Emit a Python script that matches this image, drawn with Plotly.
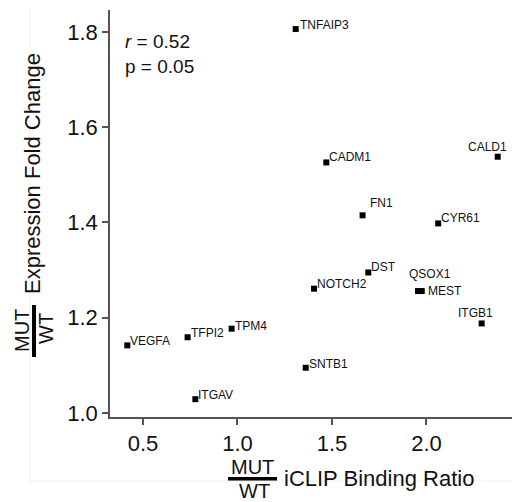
import plotly.graph_objects as go

# ---- data ----
genes = ["TNFAIP3", "CADM1", "FN1", "CYR61", "CALD1", "DST", "NOTCH2", "QSOX1",
         "MEST", "ITGB1", "SNTB1", "TPM4", "TFPI2", "VEGFA", "ITGAV"]
binding_ratio = [1.308, 1.470, 1.662, 2.062, 2.377, 1.692, 1.405, 1.955,
                 1.975, 2.292, 1.361, 0.969, 0.736, 0.417, 0.777]
fold_change = [1.806, 1.526, 1.415, 1.398, 1.538, 1.295, 1.261, 1.256,
               1.256, 1.188, 1.095, 1.177, 1.159, 1.142, 1.029]
x_ticks = [0.5, 1.0, 1.5, 2.0]
x_tick_labels = ["0.5", "1.0", "1.5", "2.0"]
y_ticks = [1.0, 1.2, 1.4, 1.6, 1.8]
y_tick_labels = ["1.0", "1.2", "1.4", "1.6", "1.8"]
stat_r = "0.52"
stat_p = "0.05"

# label placement styles: (xanchor, dx px, dy px downward)
label_style = {
    "TNFAIP3": ("left", 3, -4), "CADM1": ("left", 2, -5), "FN1": ("left", 6, -12),
    "CYR61": ("left", 2, -5), "CALD1": ("center", -10, -10), "DST": ("left", 2, -5),
    "NOTCH2": ("left", 2, -5), "QSOX1": ("center", 12, -17), "MEST": ("left", 5, 0),
    "ITGB1": ("center", -6, -10), "SNTB1": ("left", 2, -4), "TPM4": ("left", 2, -3),
    "TFPI2": ("left", 2, -4), "VEGFA": ("left", 2, -4), "ITGAV": ("left", 2, -4),
}

FONT = "Liberation Sans, Arial, sans-serif"
PAGE_W, PAGE_H = 520, 502
OFF = 8  # default body margin of the page
W, H = PAGE_W - OFF, PAGE_H - OFF
# plot area in page pixels
L, R, T, B = 110, 517, 10, 417


def px(xp):
    return (xp - L) / (R - L)


def py(yp):
    return (B - yp) / (B - T)


fig = go.Figure()
fig.add_trace(go.Scatter(
    x=binding_ratio, y=fold_change, mode="markers",
    marker=dict(symbol="square", size=6, color="black"),
    hoverinfo="text", text=genes, showlegend=False, cliponaxis=False,
))

annotations = []
for g, xv, yv in zip(genes, binding_ratio, fold_change):
    anc, dx, dy = label_style[g]
    annotations.append(dict(
        x=xv, y=yv, xref="x", yref="y", text=g, showarrow=False,
        xanchor=anc, yanchor="middle", xshift=dx, yshift=-dy, borderpad=0,
        font=dict(family=FONT, size=12, color="#111"),
    ))

# statistics
annotations.append(dict(x=px(124), y=py(42), xref="paper", yref="paper",
                        text="<i>r</i> = " + stat_r, showarrow=False,
                        xanchor="left", yanchor="middle", borderpad=0,
                        font=dict(family=FONT, size=19, color="#111")))
annotations.append(dict(x=px(124), y=py(66), xref="paper", yref="paper",
                        text="p = " + stat_p, showarrow=False,
                        xanchor="left", yanchor="middle", borderpad=0,
                        font=dict(family=FONT, size=19, color="#111")))

# x axis title: fraction + text
annotations += [
    dict(x=px(252), y=py(467), xref="paper", yref="paper", text="MUT", showarrow=False,
         xanchor="center", yanchor="middle", borderpad=0,
         font=dict(family=FONT, size=20, color="#111")),
    dict(x=px(254), y=py(491), xref="paper", yref="paper", text="WT", showarrow=False,
         xanchor="center", yanchor="middle", borderpad=0,
         font=dict(family=FONT, size=20, color="#111")),
    dict(x=px(283), y=py(478), xref="paper", yref="paper", text="iCLIP Binding Ratio",
         showarrow=False, xanchor="left", yanchor="middle", borderpad=0,
         font=dict(family=FONT, size=22, color="#111")),
    # y axis title
    dict(x=px(32), y=py(174), xref="paper", yref="paper", text="Expression Fold Change",
         showarrow=False, xanchor="center", yanchor="middle", textangle=-90, borderpad=0,
         font=dict(family=FONT, size=22, color="#111")),
    dict(x=px(22), y=py(331), xref="paper", yref="paper", text="MUT", showarrow=False,
         xanchor="center", yanchor="middle", textangle=-90, borderpad=0,
         font=dict(family=FONT, size=20, color="#111")),
    dict(x=px(46), y=py(329), xref="paper", yref="paper", text="WT", showarrow=False,
         xanchor="center", yanchor="middle", textangle=-90, borderpad=0,
         font=dict(family=FONT, size=20, color="#111")),
]

shapes = [
    dict(type="line", xref="paper", yref="paper", x0=px(228), x1=px(277),
         y0=py(479), y1=py(479), line=dict(color="black", width=4)),
    dict(type="line", xref="paper", yref="paper", x0=px(34), x1=px(34),
         y0=py(305), y1=py(357), line=dict(color="black", width=4)),
    # faint panel frame
    dict(type="line", xref="paper", yref="paper", x0=px(30), x1=px(520),
         y0=py(3), y1=py(3), line=dict(color="#cfcfcf", width=1.2)),
    dict(type="line", xref="paper", yref="paper", x0=px(30), x1=px(30),
         y0=py(3), y1=py(481), line=dict(color="#f1f1f1", width=1)),
    dict(type="line", xref="paper", yref="paper", x0=px(30), x1=px(520),
         y0=py(481), y1=py(481), line=dict(color="#eeeeee", width=1)),
]

fig.update_layout(
    width=W, height=H,
    margin=dict(l=L - OFF, r=PAGE_W - R, t=T - OFF, b=PAGE_H - B, pad=0),
    paper_bgcolor="white", plot_bgcolor="white",
    annotations=annotations, shapes=shapes,
    font=dict(family=FONT, color="#111"),
)
fig.update_xaxes(
    range=[0.3254, 2.479], showgrid=False, zeroline=False,
    showline=True, linecolor="#555", linewidth=1.5,
    ticks="outside", ticklen=6, tickwidth=1.5, tickcolor="#555",
    tickvals=x_ticks, ticktext=x_tick_labels,
    tickfont=dict(family=FONT, size=22, color="#111"),
)
fig.update_yaxes(
    range=[0.9916, 1.846], showgrid=False, zeroline=False,
    showline=True, linecolor="#555", linewidth=1.5,
    ticks="outside", ticklen=6, tickwidth=1.5, tickcolor="#555",
    tickvals=y_ticks, ticktext=y_tick_labels,
    tickfont=dict(family=FONT, size=22, color="#111"),
)

fig.write_html("out.html")
